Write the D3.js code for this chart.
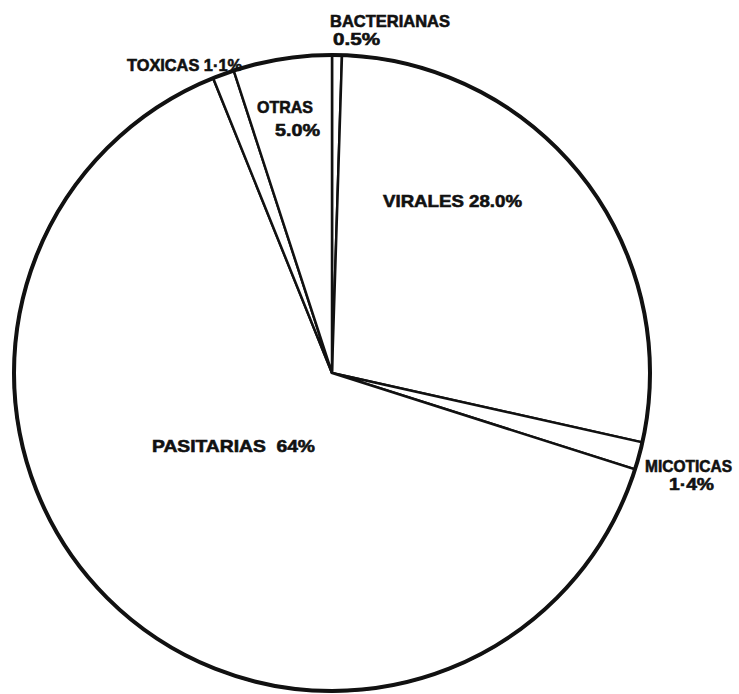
<!DOCTYPE html>
<html>
<head>
<meta charset="utf-8">
<script src="https://cdn.jsdelivr.net/npm/d3@7"></script>
<style>
    body{margin:0;background:#fff;}
    text{font-family:"Liberation Sans",Arial,sans-serif;font-weight:bold;fill:#111;stroke:#111;stroke-width:0.6px;white-space:pre;}
</style>
</head>
<body>
<script>
/* datos: en el orden de las agujas del reloj desde arriba */
let categorias=["BACTERIANAS","VIRALES","MICOTICAS","PASITARIAS","TOXICAS","OTRAS"];
let porcentajes=[0.5,28.0,1.4,64,1.1,5.0];
/* textos de las etiquetas tal como aparecen */
let etiquetas=[
    ["BACTERIANAS","0.5%"],
    ["VIRALES 28.0%"],
    ["MICOTICAS","1·4%"],
    ["PASITARIAS  64%"],
    ["TOXICAS 1·1%"],
    ["OTRAS","5.0%"]
];

let ancho=739, alto=694;
let cx=332, cy=373, radio=318;

/* donde va cada etiqueta (esquina izq. de la primera linea, relativo al centro) */
let posEtiquetas=[
    {dx:-2, dy:-346, sangria:[0,3], largo:[120,47], salto:18},
    {dx:51, dy:-166, sangria:[0], largo:[139], salto:0},
    {dx:313, dy:99, sangria:[0,24], largo:[87,45], salto:18},
    {dx:-180, dy:79, sangria:[0], largo:[163], salto:0},
    {dx:-205, dy:-302, sangria:[0], largo:[115], salto:0},
    {dx:-75, dy:-260, sangria:[0,18], largo:[56,45], salto:23}
];

let svg=d3.select("body").append("svg")
    .attr("width",ancho)
    .attr("height",alto);

let g=svg.append("g").attr("transform","translate("+cx+","+cy+")");

let pastel=d3.pie().sort(null).value(d=>d);
let arco=d3.arc().innerRadius(0).outerRadius(radio);

g.selectAll("path.rebanada")
    .data(pastel(porcentajes))
    .enter()
    .append("path")
    .attr("class","rebanada")
    .attr("d",arco)
    .style("fill","#fff")
    .style("stroke","#111")
    .style("stroke-width",2.5)
    .style("stroke-linejoin","miter");

/* borde del circulo mas grueso */
g.append("circle")
    .attr("r",radio)
    .style("fill","none")
    .style("stroke","#111")
    .style("stroke-width",4);

etiquetas.forEach(function(lineas,i){
    let p=posEtiquetas[i];
    lineas.forEach(function(linea,j){
        g.append("text")
            .attr("x",p.dx+p.sangria[j])
            .attr("y",p.dy+j*p.salto)
            .attr("textLength",p.largo[j])
            .attr("lengthAdjust","spacingAndGlyphs")
            .style("font-size","17px")
            .text(linea);
    });
});
</script>
</body>
</html>
